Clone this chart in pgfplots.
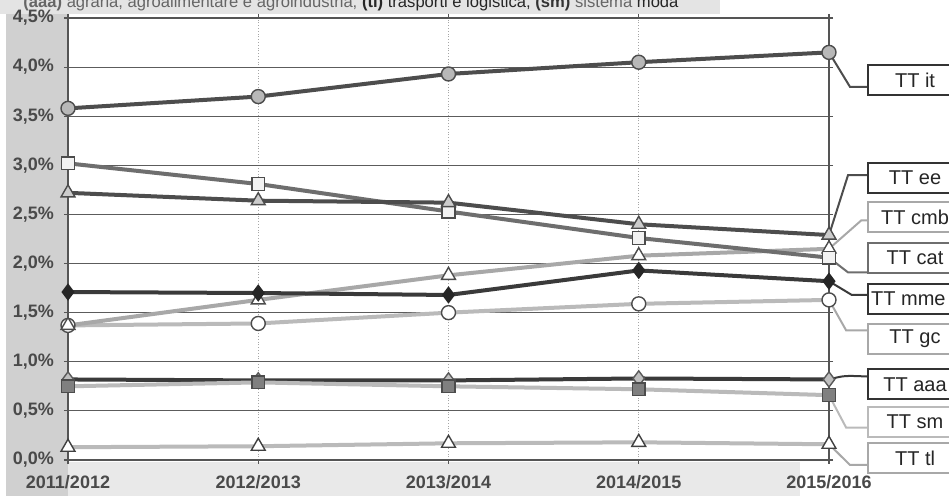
\documentclass[border=0pt]{standalone}
\usepackage{fontspec}
\setmainfont{Liberation Sans}
\usepackage{pgfplots}
\pgfplotsset{compat=1.18}

\definecolor{darkline}{HTML}{4D4D4D}
\definecolor{deepline}{HTML}{3A3A3A}
\definecolor{midline}{HTML}{6E6E6E}
\definecolor{lightline}{HTML}{A8A8A8}
\definecolor{paleline}{HTML}{BABABA}
\definecolor{gridc}{HTML}{5C5C5C}
\definecolor{axisc}{HTML}{555555}
\definecolor{labelc}{HTML}{4A4A4A}
\definecolor{bgleft}{HTML}{D0D0D0}
\definecolor{bgband}{HTML}{E4E4E4}
\definecolor{bgbottom}{HTML}{E9E9E9}

% series data: year index, share of TT on total (%)
\pgfplotstableread{
x y
0 3.58
1 3.70
2 3.93
3 4.05
4 4.15
}\ttit
\pgfplotstableread{
x y
0 2.72
1 2.64
2 2.62
3 2.40
4 2.29
}\ttee
\pgfplotstableread{
x y
0 3.02
1 2.81
2 2.53
3 2.26
4 2.06
}\ttcat
\pgfplotstableread{
x y
0 1.37
1 1.63
2 1.88
3 2.08
4 2.15
}\ttcmb
\pgfplotstableread{
x y
0 1.71
1 1.70
2 1.68
3 1.93
4 1.82
}\ttmme
\pgfplotstableread{
x y
0 1.37
1 1.39
2 1.50
3 1.59
4 1.63
}\ttgc
\pgfplotstableread{
x y
0 0.82
1 0.81
2 0.81
3 0.83
4 0.82
}\ttaaa
\pgfplotstableread{
x y
0 0.75
1 0.79
2 0.75
3 0.72
4 0.66
}\ttsm
\pgfplotstableread{
x y
0 0.13
1 0.14
2 0.17
3 0.18
4 0.16
}\tttl

\tikzset{
  tag/.style={draw=#1, line width=1pt, fill=white, anchor=west,
    minimum width=47pt, minimum height=15pt, inner sep=0pt,
    font=\fontsize{10}{12}\selectfont, text=black!85},
  lead/.style={draw=#1, line width=1pt},
}

\begin{document}
\begin{tikzpicture}
\useasboundingbox (0,0) rectangle (474.5pt,248pt);
\clip (0,0) rectangle (474.5pt,248pt);

% page backgrounds around the plot area
\fill[bgband] (0,241pt) rectangle (360pt,248pt);
\fill[bgleft] (3pt,0) rectangle (34pt,241pt);
\fill[bgbottom] (34pt,0) rectangle (400pt,17pt);

\node[anchor=base west, font=\fontsize{8.3}{10}\selectfont, text=black!60, inner sep=0pt]
  at (11.5pt,244.3pt)
  {\textbf{(aaa)} agraria, agroalimentare e agroindustria;\ \textcolor{black!85}{\textbf{(tl)} trasporti e logistica;} \textcolor{black!80}{\textbf{(sm)}} sistema \textcolor{black!85}{moda}};

\begin{axis}[
  at={(34pt,18pt)}, anchor=south west,
  scale only axis, width=380.5pt, height=221pt,
  xmin=0, xmax=4, ymin=0, ymax=4.5,
  clip=false,
  axis background/.style={fill=white},
  axis line style={draw=axisc, line width=0.8pt},
  xtick={0,1,2,3,4},
  xticklabels={2011/2012,2012/2013,2013/2014,2014/2015,2015/2016},
  ytick={0,0.5,1,1.5,2,2.5,3,3.5,4,4.5},
  yticklabels={{0,0\%},{0,5\%},{1,0\%},{1,5\%},{2,0\%},{2,5\%},{3,0\%},{3,5\%},{4,0\%},{4,5\%}},
  ymajorgrids, xmajorgrids,
  y grid style={draw=gridc, line width=0.5pt},
  x grid style={draw=black!35, densely dotted, line width=0.5pt},
  tick align=outside, major tick length=2pt,
  tick style={draw=axisc, line width=0.6pt},
  ticklabel style={font=\bfseries\fontsize{9}{10}\selectfont, text=labelc},
  yticklabel style={anchor=east, xshift=-1.5pt},
  xticklabel style={anchor=center, yshift=-9pt},
]

% light series
\addplot[paleline, line width=2pt, mark=triangle*, mark size=4pt,
  mark options={fill=white, draw=black!75, line width=0.7pt}] table {\tttl};
\addplot[paleline, line width=2pt, mark=*, mark size=3.5pt,
  mark options={fill=white, draw=black!70, line width=0.7pt}] table {\ttgc};
\addplot[lightline, line width=2pt, mark=triangle*, mark size=4pt,
  mark options={fill=white, draw=black!70, line width=0.7pt}] table {\ttcmb};

% dark series
\addplot[deepline, line width=2pt, mark=diamond*, mark size=3.8pt,
  mark options={fill=black!25, draw=black!65, line width=0.7pt}] table {\ttaaa};
\addplot[paleline, line width=2pt, mark=square*, mark size=3.2pt,
  mark options={fill=black!50, draw=black!70, line width=0.7pt}] table {\ttsm};
\addplot[deepline, line width=2pt, mark=diamond*, mark size=3.8pt,
  mark options={fill=black!85, draw=black!85, line width=0.7pt}] table {\ttmme};
\addplot[midline, line width=2pt, mark=square*, mark size=3.2pt,
  mark options={fill=black!5, draw=black!70, line width=0.7pt}] table {\ttcat};
\addplot[darkline, line width=2pt, mark=triangle*, mark size=4pt,
  mark options={fill=black!20, draw=black!70, line width=0.7pt}] table {\ttee};
\addplot[darkline, line width=2pt, mark=*, mark size=3.5pt,
  mark options={fill=black!28, draw=black!70, line width=0.7pt}] table {\ttit};

% leader lines and series tags
\draw[lead=darkline] (axis cs:4,4.15) -- (axis cs:4.11,3.80) -- (axis cs:4.2,3.80);
\node[tag=black!80] at (axis cs:4.2,3.87) {TT it};

\draw[lead=darkline] (axis cs:4,2.29) -- (axis cs:4.10,2.90) -- (axis cs:4.2,2.90);
\node[tag=black!80] at (axis cs:4.2,2.87) {TT ee};

\draw[lead=lightline] (axis cs:4,2.15) -- (axis cs:4.17,2.44) -- (axis cs:4.2,2.44);
\node[tag=lightline] at (axis cs:4.2,2.47) {TT cmb};

\draw[lead=midline] (axis cs:4,2.06) -- (axis cs:4.10,1.91) -- (axis cs:4.2,1.91);
\node[tag=midline] at (axis cs:4.2,2.06) {TT cat};

\draw[lead=deepline] (axis cs:4,1.82) -- (axis cs:4.12,1.68) -- (axis cs:4.2,1.68);
\node[tag=black!80] at (axis cs:4.2,1.64) {};
\node[anchor=east, inner sep=0pt, font=\fontsize{10}{12}\selectfont, text=black!85]
  at (axis cs:4.615,1.64) {TT mme};

\draw[lead=lightline] (axis cs:4,1.63) -- (axis cs:4.09,1.32) -- (axis cs:4.2,1.32);
\node[tag=lightline] at (axis cs:4.2,1.23) {TT gc};

\draw[lead=deepline] (axis cs:4,0.82) .. controls (axis cs:4.08,0.86) .. (axis cs:4.2,0.85);
\node[tag=black!80] at (axis cs:4.2,0.77) {TT aaa};

\draw[lead=paleline] (axis cs:4,0.66) -- (axis cs:4.09,0.33) -- (axis cs:4.2,0.33);
\node[tag=paleline] at (axis cs:4.2,0.39) {TT sm};

\draw[lead=lightline] (axis cs:4,0.16) -- (axis cs:4.11,-0.05) -- (axis cs:4.2,-0.05);
\node[tag=lightline] at (axis cs:4.2,0.02) {TT tl};

\end{axis}
\end{tikzpicture}
\end{document}
